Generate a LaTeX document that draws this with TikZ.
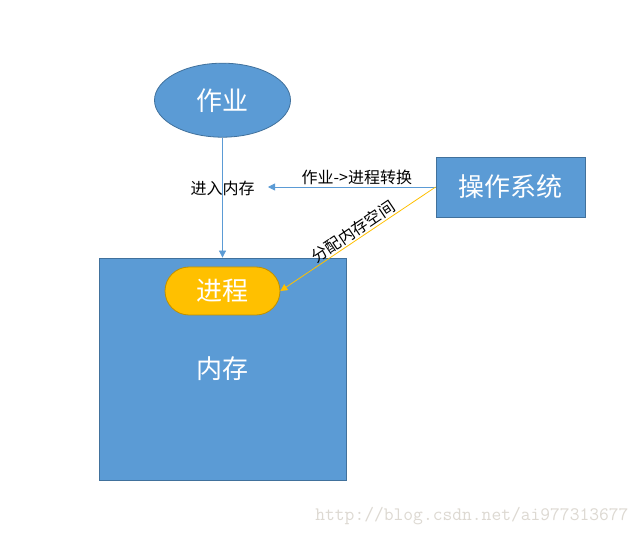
\documentclass[tikz,border=0pt]{standalone}
\usepackage{fontspec}
\setmainfont{Noto Sans CJK SC}
\usepackage{tikz}
\usetikzlibrary{positioning}
\usetikzlibrary{shapes.geometric,arrows.meta}
\definecolor{boxblue}{HTML}{5B9BD5}
\definecolor{boxedge}{HTML}{41719C}
\definecolor{procfill}{HTML}{FFC000}
\definecolor{procedge}{HTML}{BF9000}
\definecolor{markgray}{HTML}{DDD9D2}
\tikzset{
  bluebox/.style={draw=boxedge, fill=boxblue, line width=0.8pt, text=white, font=\fontsize{26}{26}\selectfont},
  lbl/.style={font=\fontsize{16}{16}\selectfont, text=black, inner sep=2pt},
  tip/.style={-{Triangle[width=7pt,length=7pt]}, line width=0.8pt}
}
\begin{document}
\begin{tikzpicture}[x=1pt,y=1pt]
  \useasboundingbox[fill=white] (0,0) rectangle (641,-537);

  \node[bluebox, minimum width=247pt, minimum height=222pt] (mem) at (222.5,-369) {内存};
  \node[bluebox, ellipse, minimum width=136pt, minimum height=74pt, above=120pt of mem] (job) {作业};
  \node[bluebox, draw=procedge, fill=procfill, rounded corners=24pt, minimum width=115pt, minimum height=48pt, below=9pt of mem.north] (proc) {进程};
  \node[bluebox, minimum width=149pt, minimum height=60pt] (os) at (510.5,-187) {操作系统};
  \coordinate (turn) at (268,-187);

  \draw [tip, boxblue] (job) -- node[lbl, pos=0.42] {进入内存} (mem);
  \draw [tip, boxblue] (os.west) -- node[lbl, above, pos=0.47] {作业->进程转换} (turn);
  \draw [tip, procfill] (os.west) -- node[lbl, above, sloped, inner sep=1pt] {分配内存空间} (proc.east);

  \node[font=\ttfamily\fontsize{19}{19}\selectfont, text=markgray, anchor=east] (mark) at (632,-516) {http://blog.csdn.net/ai977313677};
\end{tikzpicture}
\end{document}
